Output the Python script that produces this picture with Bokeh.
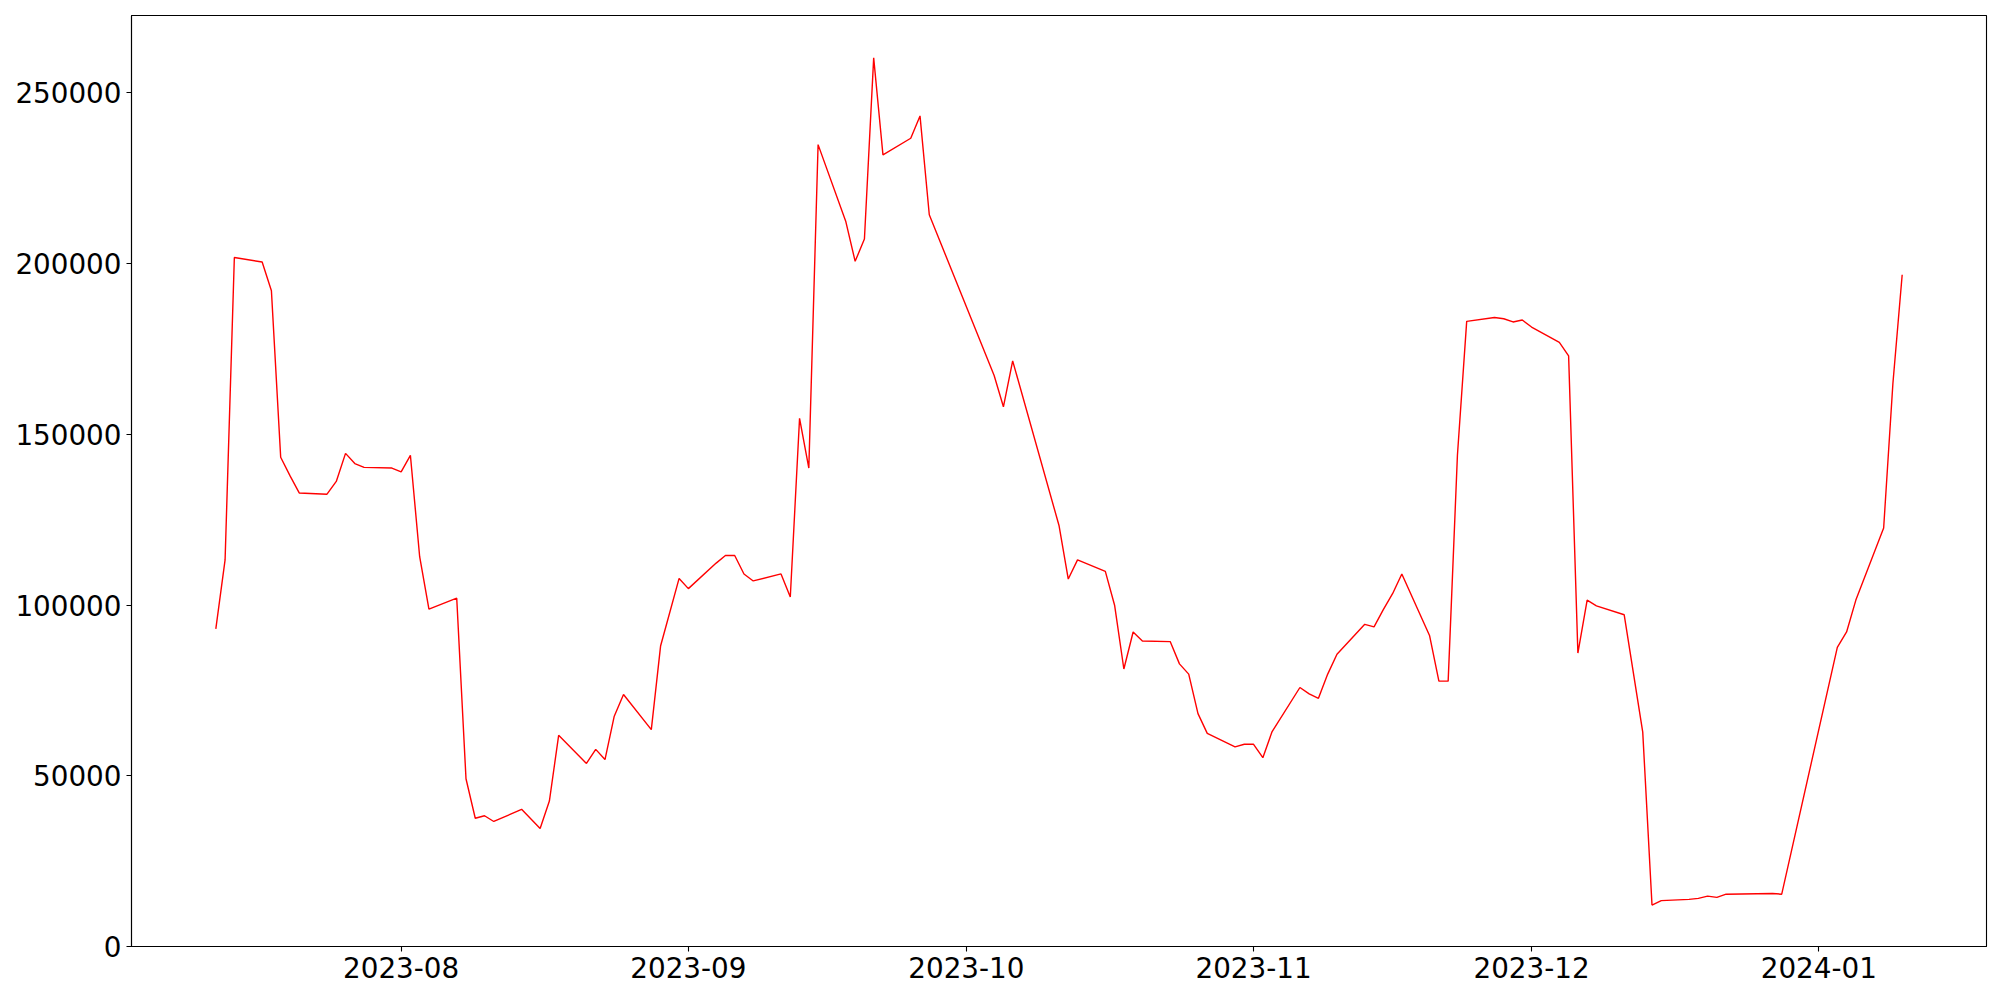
import pandas as pd
from bokeh.plotting import figure
from bokeh.models import Range1d, FixedTicker, DatetimeTickFormatter, NumeralTickFormatter
from bokeh.embed import file_html
from bokeh.resources import INLINE

dates = [
    "2023-07-12", "2023-07-13", "2023-07-14", "2023-07-17", "2023-07-18", "2023-07-19",
    "2023-07-20", "2023-07-21", "2023-07-24", "2023-07-25", "2023-07-26", "2023-07-27",
    "2023-07-28", "2023-07-31", "2023-08-01", "2023-08-02", "2023-08-03", "2023-08-04",
    "2023-08-07", "2023-08-08", "2023-08-09", "2023-08-10", "2023-08-11", "2023-08-14",
    "2023-08-16", "2023-08-17", "2023-08-18", "2023-08-21", "2023-08-22", "2023-08-23",
    "2023-08-24", "2023-08-25", "2023-08-28", "2023-08-29", "2023-08-31", "2023-09-01",
    "2023-09-04", "2023-09-05", "2023-09-06", "2023-09-07", "2023-09-08", "2023-09-11",
    "2023-09-12", "2023-09-13", "2023-09-14", "2023-09-15", "2023-09-18", "2023-09-19",
    "2023-09-20", "2023-09-21", "2023-09-22", "2023-09-25", "2023-09-26", "2023-09-27",
    "2023-10-04", "2023-10-05", "2023-10-06", "2023-10-11", "2023-10-12", "2023-10-13",
    "2023-10-16", "2023-10-17", "2023-10-18", "2023-10-19", "2023-10-20", "2023-10-23",
    "2023-10-24", "2023-10-25", "2023-10-26", "2023-10-27", "2023-10-30", "2023-10-31",
    "2023-11-01", "2023-11-02", "2023-11-03", "2023-11-06", "2023-11-07", "2023-11-08",
    "2023-11-09", "2023-11-10", "2023-11-13", "2023-11-14", "2023-11-15", "2023-11-16",
    "2023-11-17", "2023-11-20", "2023-11-21", "2023-11-22", "2023-11-23", "2023-11-24",
    "2023-11-27", "2023-11-28", "2023-11-29", "2023-11-30", "2023-12-01", "2023-12-04",
    "2023-12-05", "2023-12-06", "2023-12-07", "2023-12-08", "2023-12-11", "2023-12-13",
    "2023-12-14", "2023-12-15", "2023-12-18", "2023-12-19", "2023-12-20", "2023-12-21",
    "2023-12-22", "2023-12-27", "2023-12-28", "2024-01-03", "2024-01-04", "2024-01-05",
    "2024-01-08", "2024-01-09", "2024-01-10",
]

values = [
    93050, 113230, 201800, 200490, 192080, 143310,
    137900, 132850, 132480, 136210, 144440, 141450,
    140320, 140140, 139020, 143870, 114170, 98840,
    102020, 49140, 37560, 38300, 36620, 40170,
    34570, 42600, 61850, 53630, 57740, 54750,
    67450, 73800, 63530, 88000, 107810, 104820,
    112300, 114540, 114540, 109120, 107070, 109120,
    102390, 154710, 140140, 234870, 212260, 200680,
    207220, 260280, 231880, 236740, 243280, 214320,
    167230, 158080, 171530, 123320, 107630, 113230,
    109870, 99960, 81280, 92120, 89500, 89310,
    82780, 79780, 68200, 62410, 58490, 59230,
    59230, 55310, 62970, 75860, 73990, 72690,
    79780, 85580, 94360, 93610, 98660, 103330,
    109120, 91000, 77730, 77730, 143870, 183110,
    184230, 183860, 182930, 183490, 181430, 176950,
    173020, 85950, 101460, 99780, 97160, 62780,
    12150, 13450, 13800, 14100, 14760, 14390,
    15320, 15510, 15320, 87630, 92120, 101460,
    122580, 164990, 196750,
]

x_tick_labels = ["2023-08", "2023-09", "2023-10", "2023-11", "2023-12", "2024-01"]
y_ticks = [0, 50000, 100000, 150000, 200000, 250000]

x = pd.to_datetime(dates)
y = values

xmin, xmax = x.min(), x.max()
span = xmax - xmin
x_start = xmin - 0.05 * span
x_end = xmax + 0.05 * span
ymin, ymax = min(y), max(y)
y_end = ymax + 0.05 * (ymax - ymin)

def ms(t):
    return pd.Timestamp(t).value / 1e6

p = figure(
    width=1992, height=992,
    x_axis_type="datetime",
    output_backend="svg",
    toolbar_location=None,
    x_range=Range1d(ms(x_start), ms(x_end)),
    y_range=Range1d(0, y_end),
    min_border_left=131, min_border_right=6, min_border_top=15, min_border_bottom=46,
)
p.line(x, y, line_color="red", line_width=1.4)

p.xgrid.visible = False
p.ygrid.visible = False
p.outline_line_color = "black"
p.outline_line_width = 1.1
p.background_fill_color = "white"
p.border_fill_color = "white"

p.xaxis.ticker = FixedTicker(ticks=[ms(pd.Timestamp(t + "-01")) for t in x_tick_labels])
fmt = "%Y-%m"
p.xaxis.formatter = DatetimeTickFormatter(
    milliseconds=fmt, seconds=fmt, minsec=fmt, minutes=fmt, hourmin=fmt, hours=fmt,
    days=fmt, months=fmt, years=fmt,
)
p.yaxis.ticker = FixedTicker(ticks=y_ticks)
p.yaxis.formatter = NumeralTickFormatter(format="0")

for ax in (p.xaxis, p.yaxis):
    ax.major_label_text_font = "DejaVu Sans"
    ax.major_label_text_font_size = "27.8px"
    ax.major_label_text_color = "black"
    ax.major_tick_out = 5
    ax.major_tick_in = 0
    ax.major_tick_line_color = "black"
    ax.major_tick_line_width = 1.1
    ax.minor_tick_line_color = None
    ax.axis_line_color = "black"
    ax.axis_line_width = 1.1
    ax.major_label_standoff = 5

open("out.html", "w").write(file_html(p, INLINE))
